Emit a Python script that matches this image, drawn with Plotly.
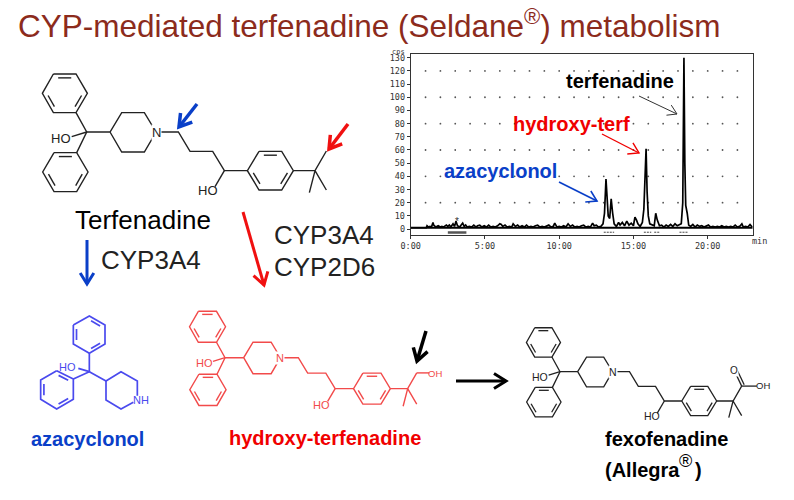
import plotly.graph_objects as go

# chromatogram
time_min = [0, 1.05, 1.1, 1.2, 1.3, 1.4, 1.5, 1.55, 1.7, 1.85, 2.0, 2.1, 2.2, 2.4, 2.5, 2.6, 2.7, 2.85, 2.95, 3.05,
            3.15, 3.3, 3.4, 3.5, 3.6, 3.7, 3.8, 3.95, 4.1, 4.25, 4.4, 4.5, 4.65, 4.8, 4.95, 5.1, 5.25, 5.4, 5.55, 5.7,
            5.85, 6.0, 6.1, 6.2, 6.35, 6.5, 6.65, 6.8, 6.9, 7.05, 7.2, 7.35, 7.5, 7.65, 7.8, 7.95, 8.1, 8.25, 8.4, 8.55,
            8.7, 8.85, 9.0, 9.15, 9.3, 9.45, 9.6, 9.7, 9.85, 10.0, 10.15, 10.3, 10.45, 10.6, 10.75, 10.9, 11.05, 11.2, 11.35, 11.5,
            11.65, 11.8, 11.95, 12.1, 12.25, 12.35, 12.5, 12.65, 12.8, 12.95, 13.05, 13.15, 13.22, 13.3, 13.4, 13.5, 13.6, 13.7, 13.85, 14.0,
            14.1, 14.25, 14.4, 14.55, 14.7, 14.85, 15.0, 15.1, 15.2, 15.3, 15.45, 15.6, 15.7, 15.78, 15.85, 15.92, 16.0, 16.1, 16.25, 16.4,
            16.5, 16.6, 16.75, 16.9, 17.05, 17.2, 17.35, 17.5, 17.65, 17.8, 17.95, 18.1, 18.22, 18.32, 18.4, 18.46, 18.52, 18.62, 18.72, 18.85,
            19.0, 19.15, 19.3, 19.45, 19.6, 19.75, 19.9, 20.05, 20.2, 20.35, 20.5, 20.65, 20.8, 20.95, 21.1, 21.25, 21.4, 21.55, 21.7, 21.85,
            22.0, 22.15, 22.3, 22.4, 22.55, 22.7, 22.85, 23.0]
intensity = [1, 1, 2.5, 1.5, 2, 1.5, 5, 3, 1.5, 2.5, 1.5, 2, 1.5, 3, 2, 3, 1.5, 4, 2, 6,
             2.5, 1.5, 3, 4.5, 2, 3, 1.5, 2, 1.5, 3, 1.5, 2.5, 3, 1.5, 2.5, 1.5, 3, 1.5, 2, 1.5,
             2.5, 4, 3.5, 2, 3, 1.5, 2, 1.5, 4, 2, 3, 1.5, 2.5, 1.5, 3, 1.5, 2, 1.5, 2.5, 3,
             1.5, 2, 1.5, 2, 3, 1.5, 2, 4.5, 1.5, 2, 1.5, 2.5, 1.5, 4, 2, 3, 1.5, 2, 1.5, 2.5,
             3, 1.5, 2, 1.5, 4.5, 2.5, 3, 1.5, 2, 4, 12, 38, 25, 10, 8, 23, 12, 4, 2, 5,
             3, 5, 2.5, 6, 3, 4.5, 2.5, 9, 7, 4, 2, 5, 15, 45, 61, 28, 10, 4, 3, 2.5,
             12, 7, 2.5, 3, 1.5, 3, 2, 3.5, 2, 4, 2.5, 3.5, 4, 20, 130, 50, 18, 12, 3, 2,
             3.5, 1.5, 3, 2, 2.5, 1.5, 2, 3, 1.5, 2, 1.5, 2, 1.5, 2.5, 1.5, 2, 1.5, 2, 1.5, 3,
             1.5, 2, 4, 1.5, 2, 1.5, 3.5, 1.5]
x_tick_vals = [0, 5, 10, 15, 20]
x_tick_text = ["0:00", "5:00", "10:00", "15:00", "20:00"]
y_tick_vals = [0, 10, 20, 30, 40, 50, 60, 70, 80, 90, 100, 110, 120, 130]
grid_x = list(range(1, 23))
grid_y = [20, 40, 60, 80, 100, 120]
peak_start = [13.0, 15.7, 16.4, 18.1]
peak_end = [13.7, 16.2, 16.8, 18.7]

BLACK = "#222222"
MOL_RED = "#f24a4a"
MOL_BLUE = "#4a4aee"
TXT_BLUE = "#0a3fc8"
TXT_RED = "#f00000"
TITLE_COL = "#8c2b1c"
W, H = 794, 500


def hexagon(p):
    # outer ring plus the three inner double bond lines
    cx = sum(a[0] for a in p) / 6
    cy = sum(a[1] for a in p) / 6
    out = [list(p) + [p[0]]]
    for i in (0, 2, 4):
        a, b = p[i], p[(i + 1) % 6]
        inner = []
        for t in (0.14, 0.86):
            mx = a[0] + (b[0] - a[0]) * t
            my = a[1] + (b[1] - a[1]) * t
            inner.append((mx + (cx - mx) * 0.2, my + (cy - my) * 0.2))
        out.append(inner)
    return out


# skeleton shared by terfenadine and its metabolites, central carbon at (170, 186)
core = hexagon([(70, 12), (138, 12), (172, 70), (138, 128), (70, 128), (37, 70)])
core += hexagon([(72, 248), (140, 248), (174, 306), (140, 365), (72, 365), (38, 306)])
core += hexagon([(687, 244), (755, 244), (790, 302), (755, 360), (687, 360), (652, 302)])
core += [
    [(138, 128), (170, 186), (140, 248)],
    [(170, 186), (125, 200)],
    [(170, 186), (240, 186), (275, 128), (343, 128), (378, 186), (343, 246), (275, 246), (240, 186)],
    [(378, 186), (445, 186), (480, 244), (548, 244), (583, 302), (652, 302)],
    [(583, 302), (555, 350)],
    [(790, 302), (855, 302), (889, 243)],
    [(838, 368), (855, 302), (889, 360)],
]
tail_oh = [[(889, 243), (936, 243)]]
tail_acid = [[(889, 243), (949, 243)], [(889, 243), (863, 188)], [(899, 238), (873, 183)]]

aza_bonds = hexagon([(208, 33), (255, 60), (255, 117), (208, 145), (160, 117), (160, 60)][::-1])
aza_bonds += hexagon([(110, 197), (160, 222), (160, 283), (110, 312), (62, 283), (62, 225)])
aza_bonds += [
    [(208, 145), (208, 200), (160, 222)],
    [(208, 200), (175, 190)],
    [(208, 200), (258, 228), (303, 200), (352, 228), (352, 272)],
    [(258, 228), (258, 285), (303, 312), (340, 292)],
]


def mol_trace(parts, ox, oy, s, color, width, cx=170, cy=186):
    xs, ys = [], []
    for part in parts:
        for a in part:
            xs.append(ox + (a[0] - cx) * s)
            ys.append(oy + (a[1] - cy) * s)
        xs.append(None)
        ys.append(None)
    return go.Scatter(x=xs, y=ys, mode="lines", xaxis="x2", yaxis="y2", hoverinfo="skip",
                      line=dict(color=color, width=width, simplify=False))


def arrow(x0, y0, x1, y1, head, color, width):
    dx, dy = x1 - x0, y1 - y0
    d = (dx ** 2 + dy ** 2) ** 0.5
    ux, uy = dx / d, dy / d
    xs = [x0, x1, None, x1 - head * (ux - 0.62 * uy), x1, x1 - head * (ux + 0.62 * uy)]
    ys = [y0, y1, None, y1 - head * (uy + 0.62 * ux), y1, y1 - head * (uy - 0.62 * ux)]
    return go.Scatter(x=xs, y=ys, mode="lines", xaxis="x2", yaxis="y2", hoverinfo="skip",
                      line=dict(color=color, width=width))


def label(x, y, text, size, color=BLACK, bold=False, bg=None, anchor="center", font="Liberation Sans"):
    if bold:
        text = "<b>" + text + "</b>"
    return dict(x=x, y=y, xref="x2", yref="y2", text=text, showarrow=False, xanchor=anchor, yanchor="middle",
                font=dict(family=font, size=size, color=color), bgcolor=bg, borderpad=0)


def mol_labels(ox, oy, s, size, color):
    return [
        label(ox + (92 - 170) * s, oy + (205 - 186) * s, "HO", size, color),
        label(ox + (378 - 170) * s, oy, "N", size, color, bg="white"),
        label(ox + (533 - 170) * s, oy + (362 - 186) * s, "HO", size, color),
    ]


fig = go.Figure()

# chromatogram
fig.add_trace(go.Scatter(x=[g for g in grid_x for _ in grid_y], y=[v for _ in grid_x for v in grid_y],
                         mode="markers", marker=dict(color="#555555", size=1.8), hoverinfo="skip"))
fig.add_trace(go.Scatter(x=[0, 23.03], y=[1, 1], mode="lines", line=dict(color="black", width=2), hoverinfo="skip"))
fig.add_trace(go.Scatter(x=time_min, y=intensity, mode="lines", line=dict(color="black", width=1.7), hoverinfo="skip"))
for a, b in zip(peak_start, peak_end):
    fig.add_trace(go.Scatter(x=[a, b], y=[-2.4, -2.4], mode="lines",
                             line=dict(color="#444444", width=1, dash="2px,1px"), hoverinfo="skip"))
fig.add_trace(go.Scatter(x=[2.5, 3.75], y=[-2.6, -2.6], mode="lines", line=dict(color="#555555", width=2.5),
                         hoverinfo="skip"))

# molecules
fig.add_trace(mol_trace(core, 86.7, 132, 1 / 3, BLACK, 1.4))
fig.add_trace(mol_trace(core + tail_oh, 225, 357.7, 0.8 / 3, MOL_RED, 1.4))
fig.add_trace(mol_trace(core + tail_acid, 560, 371.7, 0.758 / 3, BLACK, 1.3))
fig.add_trace(mol_trace(aza_bonds, 20, 305, 1 / 3, MOL_BLUE, 1.7, cx=0, cy=0))

# arrows
fig.add_trace(arrow(197, 104, 179, 127, 12, "#0a3fc8", 3.5))
fig.add_trace(arrow(348, 124, 329, 149, 12, "#f01010", 3.5))
fig.add_trace(arrow(426, 331, 417, 361, 12, "black", 3.5))
fig.add_trace(arrow(87, 240, 87, 284, 11, "#0a3fc8", 3))
fig.add_trace(arrow(243, 212, 264, 285, 12, "#f01010", 3))
fig.add_trace(arrow(456, 381, 506, 381, 12, "black", 3))
fig.add_trace(arrow(559, 182, 597, 201, 10, TXT_BLUE, 1.6))
fig.add_trace(arrow(602, 134, 639, 153, 10, TXT_RED, 1.4))
fig.add_trace(arrow(639, 96, 677, 114, 9, "#333333", 1))

notes = [
    label(17, 24, "CYP-mediated terfenadine (Seldane<sup>®</sup>) metabolism", 31.5, TITLE_COL, anchor="left"),
    label(620, 81, "terfenadine", 20, "black", True),
    label(571, 124, "hydroxy-terf", 20, TXT_RED, True),
    label(500.7, 171, "azacyclonol", 20, TXT_BLUE, True),
    label(143, 220, "Terfenadine", 26, "black"),
    label(100, 260, "CYP3A4", 26, BLACK, anchor="left"),
    label(273, 235, "CYP3A4", 26, BLACK, anchor="left"),
    label(273, 267, "CYP2D6", 26, BLACK, anchor="left"),
    label(87, 439, "azacyclonol", 20, TXT_BLUE, True),
    label(324.7, 438, "hydroxy-terfenadine", 20, TXT_RED, True),
    label(666, 439, "fexofenadine", 20, "black", True),
    label(604, 470, "(Allegra", 20, "black", True, anchor="left"),
    label(685.5, 461, "®", 18, "black"),
    label(698, 470, "<b>)</b>", 20, "black"),
    label(759, 241, "min", 8.5, "#333333", font="DejaVu Sans Mono"),
    label(398, 52, "cps", 7, "#333333", font="DejaVu Sans Mono"),
    label(457, 221, "*", 10, "#333333"),
    label(435, 373.5, "OH", 9.5, MOL_RED),
    label(734, 370.5, "O", 10, BLACK, bg="white"),
    label(763, 385.5, "OH", 9.5, BLACK),
    label(67, 367, "HO", 11, MOL_BLUE),
    label(141, 400, "NH", 11, MOL_BLUE),
]
notes += mol_labels(86.7, 132, 1 / 3, 13, BLACK)
notes += mol_labels(225, 357.7, 0.8 / 3, 11, MOL_RED)
notes += mol_labels(560, 371.7, 0.758 / 3, 10.5, BLACK)

axis_font = dict(family="DejaVu Sans Mono", size=8.5, color="#333333")
fig.update_layout(
    width=W, height=H, margin=dict(l=0, r=0, t=0, b=0), showlegend=False,
    paper_bgcolor="white", plot_bgcolor="rgba(0,0,0,0)", annotations=notes,
    xaxis=dict(domain=[410.7 / W, 752.7 / W], range=[0, 23.03], tickvals=x_tick_vals, ticktext=x_tick_text,
               ticks="outside", ticklen=3, tickcolor="#333333", tickfont=axis_font, showgrid=False, zeroline=False,
               showline=True, linecolor="#333333", linewidth=1, mirror=True, anchor="y", automargin=False),
    yaxis=dict(domain=[1 - 235 / H, 1 - 54.3 / H], range=[-4.5, 132.6], tickvals=y_tick_vals,
               ticks="outside", ticklen=3, tickcolor="#333333", tickfont=axis_font, showgrid=False, zeroline=False,
               showline=True, linecolor="#333333", linewidth=1, mirror=True, anchor="x", automargin=False),
    xaxis2=dict(domain=[0, 1], range=[0, W], visible=False, anchor="y2", automargin=False),
    yaxis2=dict(domain=[0, 1], range=[H, 0], visible=False, anchor="x2", automargin=False),
)

fig.write_html("out.html", config=dict(displayModeBar=False), post_script="document.body.style.margin='0';")
